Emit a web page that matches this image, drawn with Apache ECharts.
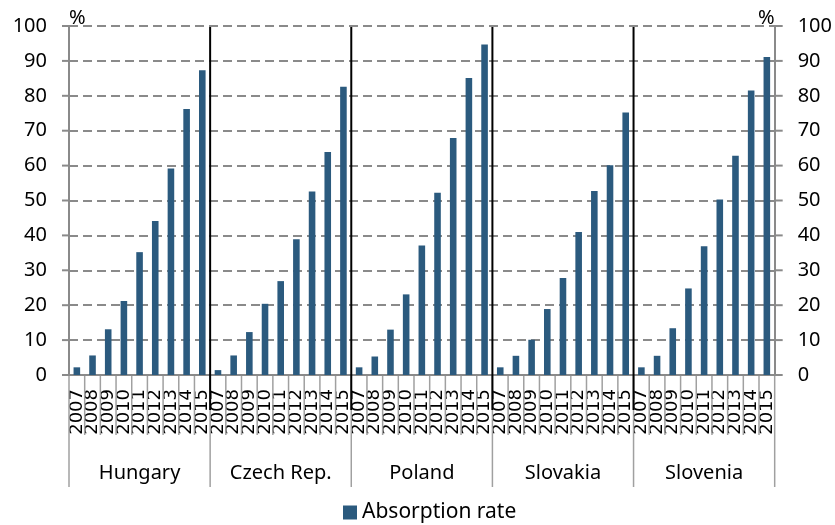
<!DOCTYPE html>
<html>
<head>
<meta charset="utf-8">
<script src="https://cdn.jsdelivr.net/npm/echarts@6/dist/echarts.min.js"></script>
<style>html,body{margin:0;padding:0;background:#fff}#c{width:835px;height:525px}</style>
</head>
<body>
<div id="c"></div>
<script>
var countries = ['Hungary', 'Czech Rep.', 'Poland', 'Slovakia', 'Slovenia'];
var years = ['2007','2008','2009','2010','2011','2012','2013','2014','2015'];
var hungary  = [2.2, 5.6, 13.1, 21.2, 35.2, 44.1, 59.2, 76.2, 87.3];
var czech    = [1.4, 5.6, 12.3, 20.4, 26.9, 38.9, 52.6, 63.9, 82.6];
var poland   = [2.2, 5.3, 13.0, 23.1, 37.1, 52.2, 67.9, 85.1, 94.7];
var slovakia = [2.2, 5.5, 10.1, 18.9, 27.8, 41.0, 52.7, 60.1, 75.2];
var slovenia = [2.2, 5.5, 13.4, 24.8, 36.9, 50.3, 62.8, 81.5, 91.1];
var yTicks = [0, 100, 10];
var seriesName = 'Absorption rate';

var groups = [hungary, czech, poland, slovakia, slovenia];
var cats = [], vals = [];
groups.forEach(function (g, gi) {
  years.forEach(function (y, i) { cats.push(y + '\u200b'.repeat(gi)); vals.push(g[i]); });
});

var FONT = 'Noto Sans';
var grid = '#8a8a8a';
var chart = echarts.init(document.getElementById('c'));
function yAxis(pos, align, margin) {
  return {
    type: 'value', position: pos, min: yTicks[0], max: yTicks[1], interval: yTicks[2],
    name: '%', nameLocation: 'end', nameGap: 0,
    nameTextStyle: { align: align, fontSize: 20, fontFamily: FONT, color: '#000', padding: [0, 0, -2, 0] },
    axisLine: { show: true, lineStyle: { color: grid, width: 2 } },
    axisTick: { show: false },
    axisLabel: { color: '#000', fontSize: 20, fontFamily: FONT, margin: margin },
    splitLine: { show: true, lineStyle: { color: grid, width: 2, type: [9, 5] } }
  };
}
chart.setOption({
  animation: false,
  grid: { left: 69, right: 60, top: 26, bottom: 150 },
  legend: {
    data: [seriesName], bottom: -3, left: 338, icon: 'rect', itemWidth: 14, itemHeight: 14, itemGap: 4,
    textStyle: { fontSize: 21, fontFamily: FONT, color: '#000' }
  },
  xAxis: [{
    type: 'category', data: cats,
    axisLine: { show: true, lineStyle: { color: grid, width: 2 } },
    axisTick: { show: false },
    axisLabel: { interval: 0, rotate: 90, margin: 14, fontSize: 18, fontFamily: 'DejaVu Sans', color: '#000' }
  }, {
    type: 'category', data: countries, position: 'bottom', offset: 60,
    axisLine: { show: false },
    axisTick: { show: false },
    axisLabel: { interval: 0, margin: 28, fontSize: 20, fontFamily: FONT, color: '#000' }
  }],
  yAxis: [yAxis('left', 'left', 22), yAxis('right', 'right', 23)],
  series: [{
    name: seriesName, type: 'bar', data: vals, barWidth: '42%',
    itemStyle: { color: '#2b5a7e' }
  }]
});

// axis-derived helper lines (positions from the chart's own scales)
var n = cats.length;
var c0 = chart.convertToPixel({ xAxisIndex: 0 }, 0);
var c1 = chart.convertToPixel({ xAxisIndex: 0 }, 1);
var step = c1 - c0;
function boundary(k) { return c0 + (k - 0.5) * step; }
var yTop = chart.convertToPixel({ yAxisIndex: 0 }, yTicks[1]);
var yBot = chart.convertToPixel({ yAxisIndex: 0 }, yTicks[0]);
var xL = boundary(0), xR = boundary(n);
var els = [];
for (var k = 0; k <= n; k++) {
  var x = boundary(k);
  var isGroup = (k % years.length === 0);
  els.push({ type: 'line', z: 50, shape: { x1: x, y1: yBot + 1, x2: x, y2: yBot + (isGroup ? 112 : 60) },
    style: { stroke: '#a0a0a0', lineWidth: 1.5 } });
  if (isGroup && k > 0 && k < n) {
    els.push({ type: 'line', z: 100, shape: { x1: x, y1: yTop + 1, x2: x, y2: yBot + 35 },
      style: { stroke: '#000', lineWidth: 2 } });
  }
}
for (var v = yTicks[0]; v <= yTicks[1]; v += yTicks[2]) {
  var y = chart.convertToPixel({ yAxisIndex: 0 }, v);
  els.push({ type: 'line', z: 50, shape: { x1: xL - 7, y1: y, x2: xL, y2: y }, style: { stroke: grid, lineWidth: 2 } });
  els.push({ type: 'line', z: 50, shape: { x1: xR, y1: y, x2: xR + 8, y2: y }, style: { stroke: grid, lineWidth: 2 } });
}
chart.setOption({ graphic: els });
</script>
</body>
</html>
